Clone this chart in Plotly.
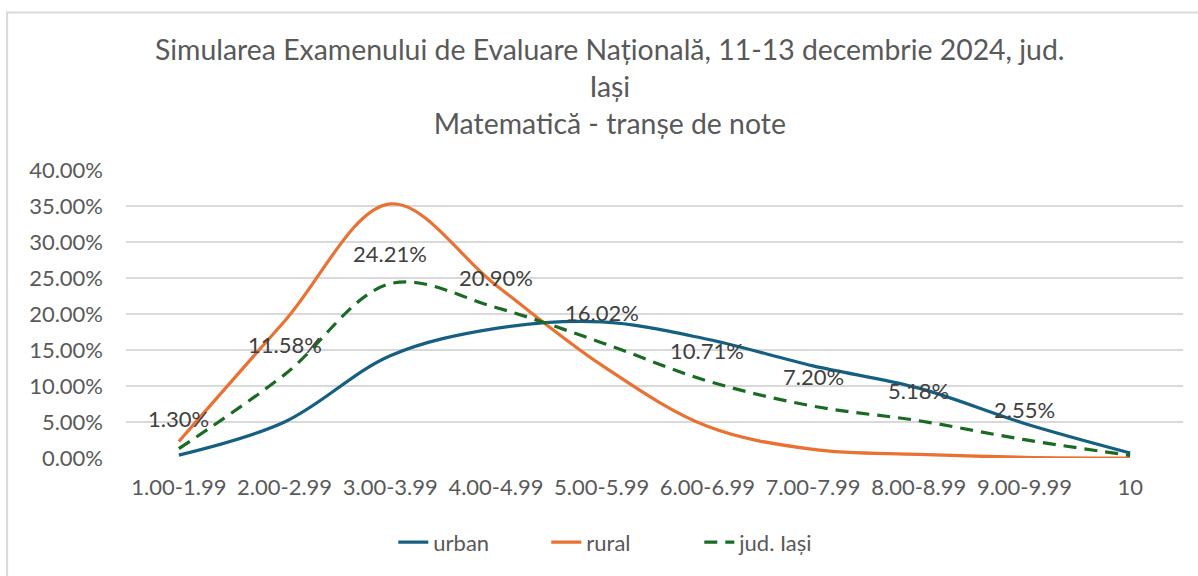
import plotly.graph_objects as go

categories = ["1.00-1.99", "2.00-2.99", "3.00-3.99", "4.00-4.99", "5.00-5.99",
              "6.00-6.99", "7.00-7.99", "8.00-8.99", "9.00-9.99", "10"]
urban = [0.40, 5.00, 14.20, 18.00, 18.90, 16.50, 12.80, 9.70, 4.80, 0.70]
rural = [2.30, 19.00, 35.30, 24.00, 12.90, 4.40, 1.20, 0.50, 0.10, 0.00]
jud_iasi = [1.30, 11.58, 24.21, 20.90, 16.02, 10.71, 7.20, 5.18, 2.55, 0.36]
jud_labels = ["1.30%", "11.58%", "24.21%", "20.90%", "16.02%",
              "10.71%", "7.20%", "5.18%", "2.55%", "0.36%"]

FONT = "Lato"
GREY = "#595959"

fig = go.Figure()
fig.add_trace(go.Scatter(x=categories, y=[v / 100 for v in urban], name="urban",
                         mode="lines", line=dict(color="#156082", width=3.2, shape="spline")))
fig.add_trace(go.Scatter(x=categories, y=[v / 100 for v in rural], name="rural",
                         mode="lines", line=dict(color="#E97132", width=3.2, shape="spline")))
fig.add_trace(go.Scatter(x=categories, y=[v / 100 for v in jud_iasi], name="jud. Iași",
                         mode="lines", line=dict(color="#196B24", width=3.2, shape="spline",
                                                 dash="13px,8px")))

for c, v, t in zip(categories, jud_iasi, jud_labels):
    fig.add_annotation(x=c, y=v / 100, text=t, showarrow=False, yshift=30,
                       font=dict(family=FONT, size=22, color="#404040"))

fig.add_shape(type="rect", xref="paper", yref="paper",
              x0=-0.1125, x1=1.3, y0=-1.0, y1=1.547,
              line=dict(color="#D9D9D9", width=2), fillcolor="rgba(0,0,0,0)", layer="below")

fig.update_layout(
    width=1198, height=576,
    paper_bgcolor="white", plot_bgcolor="white",
    margin=dict(l=126, r=15, t=170, b=116),
    title=dict(text="Simularea Examenului de Evaluare Națională, 11-13 decembrie 2024, jud.<br>Iași<br>Matematică - tranșe de note",
               x=0.509, xanchor="center", y=1 - 60 / 576, yanchor="middle",
               font=dict(family=FONT, size=28.4, color=GREY)),
    font=dict(family=FONT, size=22, color=GREY),
    showlegend=True,
    legend=dict(orientation="h", x=0.47, xanchor="center", y=-0.293, yanchor="middle",
                entrywidth=108, entrywidthmode="pixels",
                font=dict(family=FONT, size=22, color=GREY)),
    xaxis=dict(type="category", range=[-0.5, 9.5], showgrid=False, showline=False,
               ticks="", tickfont=dict(family=FONT, size=22, color=GREY), ticklabelstandoff=14),
    yaxis=dict(range=[0, 0.40], dtick=0.05, tickformat=".2%", showgrid=True,
               gridcolor="#D9D9D9", gridwidth=1.5, zeroline=False, showline=False,
               tickfont=dict(family=FONT, size=22, color=GREY), ticklabelstandoff=22),
)

fig.write_html("out.html", config={"displayModeBar": False},
               post_script="document.body.style.margin='0';")
